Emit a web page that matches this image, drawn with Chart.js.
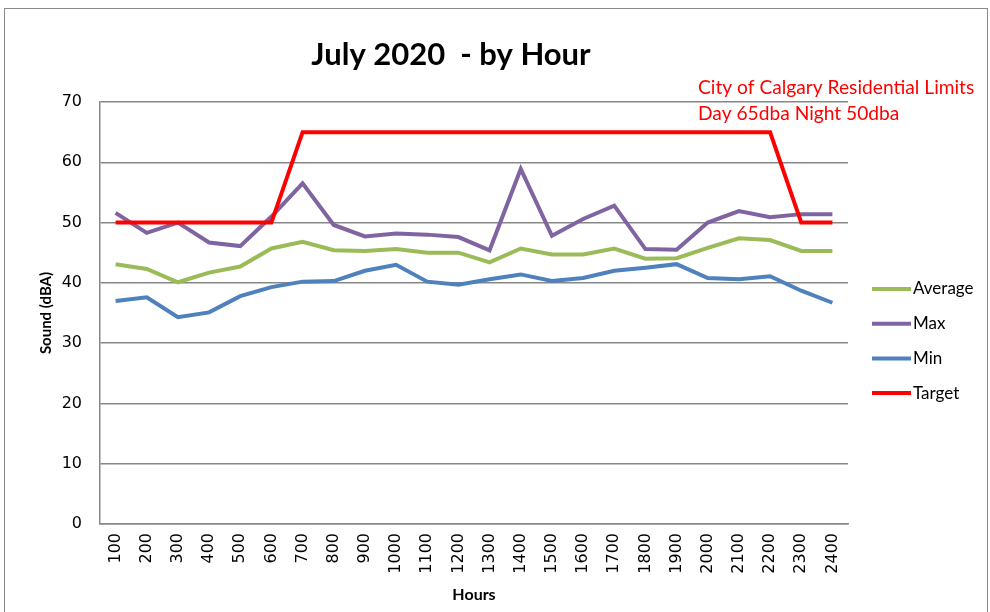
<!DOCTYPE html>
<html>
<head>
<meta charset="utf-8">
<script src="https://cdn.jsdelivr.net/npm/chart.js@4.4.1/dist/chart.umd.min.js"></script>
<style>
  html, body { margin: 0; padding: 0; background: #fff; }
  #wrap { position: relative; width: 990px; height: 612px; overflow: hidden; }
  #frame { position: absolute; left: 4px; top: 8px; right: 2px; bottom: -4px; border: 1.5px solid #8a8a8a; pointer-events: none; }
</style>
</head>
<body>
<div id="wrap">
  <canvas id="chart" width="990" height="612"></canvas>
  <div id="frame"></div>
</div>
<script>
// --- дані ---
const hours = ['100','200','300','400','500','600','700','800','900','1000','1100','1200',
               '1300','1400','1500','1600','1700','1800','1900','2000','2100','2200','2300','2400'];
const avgValues = [43.1, 42.3, 40.1, 41.7, 42.7, 45.7, 46.8, 45.4, 45.3, 45.6, 45.0, 45.0,
                   43.4, 45.7, 44.7, 44.7, 45.7, 44.0, 44.1, 45.8, 47.4, 47.1, 45.3, 45.3];
const maxValues = [51.6, 48.3, 50.0, 46.7, 46.1, 51.0, 56.5, 49.6, 47.7, 48.2, 48.0, 47.6,
                   45.4, 58.9, 47.8, 50.6, 52.8, 45.6, 45.5, 50.0, 51.9, 50.9, 51.4, 51.4];
const minValues = [37.0, 37.6, 34.3, 35.1, 37.8, 39.3, 40.2, 40.3, 42.0, 43.0, 40.2, 39.7,
                   40.6, 41.4, 40.3, 40.8, 42.0, 42.5, 43.1, 40.8, 40.6, 41.1, 38.7, 36.7];
const targetValues = [50, 50, 50, 50, 50, 50, 65, 65, 65, 65, 65, 65,
                      65, 65, 65, 65, 65, 65, 65, 65, 65, 65, 50, 50];
const titleText = 'July 2020  - by Hour';
const noteLines = ['City of Calgary Residential Limits', 'Day 65dba Night 50dba'];

const GRID = '#878787';
const FONT = 'Lato, "Liberation Sans", sans-serif';

const makeSet = (label, data, color, order) => ({
    label, data, order,
    borderColor: color,
    backgroundColor: color,
    borderWidth: 4,
    pointRadius: 0,
    tension: 0,
    fill: false
});

// заголовок, примітка і легенда справа
const extras = {
    id: 'extras',
    afterDraw(chart) {
        const ctx = chart.ctx;
        ctx.save();
        ctx.fillStyle = '#000';
        ctx.font = `bold 31px ${FONT}`;
        ctx.textAlign = 'center';
        ctx.textBaseline = 'middle';
        ctx.fillText(titleText, 451, 55);

        ctx.fillStyle = '#ff0000';
        ctx.font = `19.2px ${FONT}`;
        ctx.textAlign = 'left';
        noteLines.forEach((t, i) => ctx.fillText(t, 698, 88 + i * 26));

        ctx.font = `17px ${FONT}`;
        chart.data.datasets.forEach((ds, i) => {
            const y = 289 + i * 34.7;
            ctx.strokeStyle = ds.borderColor;
            ctx.lineWidth = 4;
            ctx.beginPath();
            ctx.moveTo(872, y);
            ctx.lineTo(911, y);
            ctx.stroke();
            ctx.fillStyle = '#000';
            ctx.fillText(ds.label, 913, y);
        });
        ctx.restore();
    }
};

new Chart(document.getElementById('chart'), {
    type: 'line',
    data: {
        labels: hours,
        datasets: [
            makeSet('Average', avgValues, '#9bbb59', 4),
            makeSet('Max', maxValues, '#8064a2', 3),
            makeSet('Min', minValues, '#4f81bd', 2),
            makeSet('Target', targetValues, '#ff0000', 1)
        ]
    },
    options: {
        animation: false,
        responsive: false,
        layout: { padding: { left: 0, top: 102, right: 142, bottom: 0 } },
        plugins: { legend: { display: false }, title: { display: false }, tooltip: { enabled: false } },
        scales: {
            x: {
                offset: true,
                grid: { display: false, drawTicks: false },
                border: { display: true, color: GRID, width: 1.5 },
                ticks: {
                    minRotation: 90, maxRotation: 90, autoSkip: false, padding: 9,
                    color: '#000', font: { family: '"DejaVu Sans", sans-serif', size: 16 }
                },
                title: {
                    display: true, text: 'Hours', color: '#000',
                    font: { family: FONT, size: 16, weight: 'bold' },
                    padding: { top: 0, bottom: 8 }
                },
                afterFit(s) { s.height = 88; }
            },
            y: {
                min: 0, max: 70,
                grid: { color: GRID, lineWidth: 1.5, tickLength: 0, drawTicks: false },
                border: { display: true, color: GRID, width: 1.5 },
                ticks: {
                    stepSize: 10, padding: 18, color: '#000',
                    font: { family: '"DejaVu Sans", sans-serif', size: 16 }
                },
                title: {
                    display: true, text: 'Sound (dBA)', color: '#000',
                    font: { family: FONT, size: 15, weight: 'bold' },
                    padding: { top: 37, bottom: 0 }
                },
                afterFit(s) { s.width = 100; }
            }
        }
    },
    plugins: [extras]
});
</script>
</body>
</html>
